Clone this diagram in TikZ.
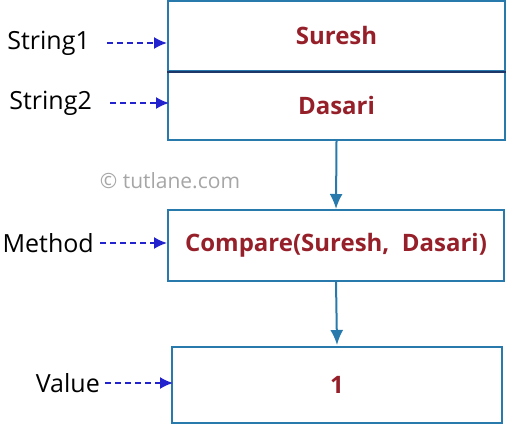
\documentclass[tikz,border=0pt]{standalone}
\usepackage{fontspec}
\setmainfont{Open Sans}
\usepackage{tikz}
\usetikzlibrary{arrows.meta}
\definecolor{boxblue}{RGB}{40,122,172}
\definecolor{linenavy}{RGB}{30,55,105}
\definecolor{dashblue}{RGB}{35,35,205}
\definecolor{valred}{RGB}{150,32,42}
\tikzset{
  membox/.style={draw=boxblue, line width=2pt, minimum width=337pt, inner sep=0pt,
    font=\fontsize{24}{28}\selectfont\bfseries, text=valred},
  namelbl/.style={anchor=east, inner sep=0pt, font=\fontsize{25}{29}\selectfont},
  ptr/.style={-{Latex[length=13pt,width=12pt]}, dashblue, dash pattern=on 6pt off 4pt, line width=1.8pt},
  flow/.style={-{Latex[length=15pt,width=13pt]}, boxblue, line width=2pt}
}
\begin{document}
\begin{tikzpicture}[x=1pt,y=1pt]
    \useasboundingbox (0,0) rectangle (526,424);
    % Strings
    \node[membox, minimum height=70pt] (sur) at (336.5,388) {Suresh};
    \node[membox, minimum height=69pt] (das) at (336.5,318.5) {Dasari};
    \draw[linenavy, line width=1.6pt] (sur.south west) -- (sur.south east);
    % Method and result
    \node[membox, minimum height=71pt, minimum width=336pt] (cmp) at (336,178.5) {Compare(Suresh,\ \ Dasari)};
    \node[membox, minimum height=76pt, minimum width=330pt] (val) at (337,39) {1};
    % Name labels
    \node[namelbl] (str1) at (90,381) {String1};
    \node[namelbl] (str2) at (92,321) {String2};
    \node[namelbl] (meth) at (94,181) {Method};
    \node[namelbl] (vlbl) at (100,41) {Value};
    \node[text=gray!70, font=\fontsize{21}{24}\selectfont] (mark) at (170,243) {\textcopyright\ tutlane.com};
    % Draw arrows
    \draw[ptr] ([xshift=17pt]str1.east) -- (sur.west |- str1.east);
    \draw[ptr] ([xshift=18pt]str2.east) -- ([xshift=2pt]das.west |- str2.east);
    \draw[ptr] ([xshift=6pt]meth.east) -- (cmp.west |- meth.east);
    \draw[ptr] ([xshift=5pt]vlbl.east) -- ([xshift=2pt]val.west |- vlbl.east);
    \draw[flow] (das.south) -- (cmp.north);
    \draw[flow] (cmp.south) -- ([yshift=1pt]val.north);
\end{tikzpicture}
\end{document}
